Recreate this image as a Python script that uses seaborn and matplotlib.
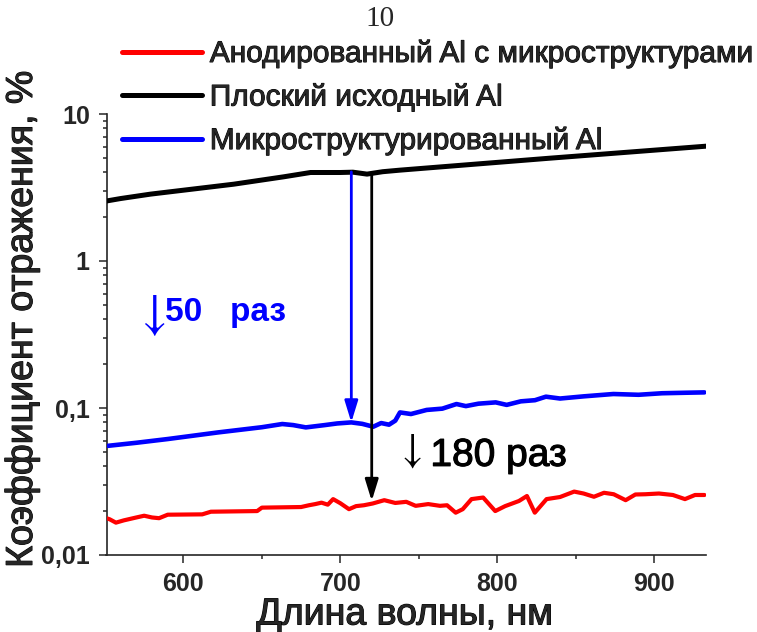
import numpy as np
import pandas as pd
import matplotlib
matplotlib.use("Agg")
import matplotlib.pyplot as plt
import matplotlib.patheffects as pe
import seaborn as sns
from matplotlib.ticker import LogLocator, FixedLocator, FixedFormatter, NullFormatter
from matplotlib.lines import Line2D

# ---------------- data ----------------
black_nm = [551, 560, 579, 632, 664, 681, 700, 708, 717, 727, 738, 833, 933]
black_val = [2.56, 2.66, 2.85, 3.33, 3.74, 4.0, 4.0, 4.02, 3.9, 4.05, 4.15, 5.0, 6.04]

blue_nm = [552, 570, 590, 622, 650, 663, 670, 678, 690, 698, 707, 714, 721, 726,
           731, 735, 738, 745, 755, 765, 774, 780, 788, 799, 806, 815, 824, 831,
           840, 855, 874, 890, 905, 920, 932]
blue_val = [0.0553, 0.058, 0.0615, 0.0682, 0.074, 0.0778, 0.0765, 0.0738, 0.0765,
            0.0785, 0.0798, 0.078, 0.0746, 0.079, 0.077, 0.082, 0.0933, 0.091,
            0.097, 0.099, 0.1064, 0.103, 0.107, 0.1092, 0.105, 0.111, 0.113,
            0.1194, 0.116, 0.12, 0.1245, 0.123, 0.126, 0.127, 0.1277]

red_nm = [551, 553, 557, 562, 570, 575, 580, 584.5, 590, 612, 617.5, 647, 650, 675,
          680, 684, 688, 692, 695.4, 700, 705.5, 710, 715, 720.6, 728, 735, 742,
          748, 756, 763.5, 768, 773.5, 778, 783.6, 791, 798.7, 805, 813.8, 818.9,
          823.9, 831.4, 840, 849, 855, 861.6, 868, 874.2, 881.8, 888, 894.4, 903,
          911.9, 919.6, 926, 932]
red_val = [0.0178, 0.0175, 0.0166, 0.0172, 0.0180, 0.0185, 0.0180, 0.0178, 0.0188,
           0.0189, 0.0197, 0.0199, 0.0210, 0.0212, 0.0218, 0.0222, 0.0227, 0.0220,
           0.0240, 0.0225, 0.0205, 0.0215, 0.0218, 0.0224, 0.0236, 0.0226, 0.0230,
           0.0216, 0.0222, 0.0216, 0.0218, 0.0194, 0.0205, 0.0240, 0.0246, 0.0199,
           0.0215, 0.0233, 0.0252, 0.0194, 0.0240, 0.0248, 0.0270, 0.0262, 0.0249,
           0.0265, 0.0259, 0.0236, 0.0258, 0.0259, 0.0262, 0.0256, 0.0240, 0.0256,
           0.0256]

series_labels = ["Анодированный Al с микроструктурами",
                 "Плоский исходный Al",
                 "Микроструктурированный Al"]
series_colors = ["#ff0000", "#000000", "#0000ff"]

x_ticks = [600, 700, 800, 900]
x_minor = [650, 750, 850]
y_ticks = [0.01, 0.1, 1, 10]
y_tick_labels = ["0,01", "0,1", "1", "10"]

# arrows: (x, from, to)
blue_arrow = (707, 4.04, 0.0798)
black_arrow = (720, 3.83, 0.0233)
# notes: arrow glyph position (x, y) and text position (x, baseline y)
blue_glyph = (568.5, 0.43)
blue_note = (588.3, 0.39, "50   раз")
black_glyph = (735.0, 0.0512)
black_note = (757.4, 0.0404, "180 раз")

# ---------------- plot ----------------
sns.set_style("ticks")
plt.rcParams["font.family"] = ["Liberation Sans", "DejaVu Sans"]
plt.rcParams["mathtext.fontset"] = "stix"

fig = plt.figure(figsize=(7.57, 6.32), dpi=100)
ax = fig.add_axes([106.5 / 757, 77 / 632, (706 - 106.5) / 757, (555 - 114) / 632])

sns.lineplot(x=black_nm, y=black_val, ax=ax, color=series_colors[1], lw=3.6,
             legend=False, zorder=3)
sns.lineplot(x=blue_nm, y=blue_val, ax=ax, color=series_colors[2], lw=3.3,
             legend=False, zorder=3)
sns.lineplot(x=red_nm, y=red_val, ax=ax, color=series_colors[0], lw=3.0,
             legend=False, zorder=3)

ax.set_yscale("log")
ax.set_xlim(551, 933)
ax.set_ylim(0.01, 10)

ax.xaxis.set_major_locator(FixedLocator(x_ticks))
ax.xaxis.set_minor_locator(FixedLocator(x_minor))
ax.yaxis.set_major_locator(FixedLocator(y_ticks))
ax.yaxis.set_major_formatter(FixedFormatter(y_tick_labels))
ax.yaxis.set_minor_locator(LogLocator(base=10, subs=np.arange(2, 10)))
ax.yaxis.set_minor_formatter(NullFormatter())

for s in ["top", "right"]:
    ax.spines[s].set_visible(False)
for s in ["left", "bottom"]:
    ax.spines[s].set_linewidth(1.2)

ax.tick_params(which="major", direction="out", length=6, width=1.1,
               labelsize=18, pad=6)
ax.tick_params(which="minor", direction="out", length=3, width=1.1)
for lab in ax.get_xticklabels() + ax.get_yticklabels():
    lab.set_fontweight("bold")

heavy = [pe.withStroke(linewidth=0.8, foreground="black")]

ax.set_xlabel("Длина волны, нм", fontsize=27, path_effects=heavy)
ax.xaxis.set_label_coords(0.498, -0.094)
ax.set_ylabel("Коэффициент отражения, %", fontsize=27, path_effects=heavy)
ax.yaxis.set_label_coords(-0.111, 0.535)

arrow_kw = dict(arrowstyle="-|>,head_length=1.3,head_width=0.4", lw=2,
                shrinkA=0, shrinkB=0)
ax.annotate("", xy=(blue_arrow[0], blue_arrow[2]), xytext=(blue_arrow[0], blue_arrow[1]),
            arrowprops=dict(color="#0000ff", **arrow_kw), zorder=4)
ax.annotate("", xy=(black_arrow[0], black_arrow[2]), xytext=(black_arrow[0], black_arrow[1]),
            arrowprops=dict(color="black", **arrow_kw), zorder=4)

# notes: thin arrow glyph + text
ax.text(blue_glyph[0], blue_glyph[1], r"$\downarrow$", color="#0000ff",
        fontsize=36, ha="left", va="center")
ax.text(blue_note[0], blue_note[1], blue_note[2], color="#0000ff", fontsize=24,
        fontweight="bold", ha="left", va="baseline")
ax.text(black_glyph[0], black_glyph[1], r"$\downarrow$", color="black",
        fontsize=30, ha="left", va="center")
ax.text(black_note[0], black_note[1], black_note[2], color="black", fontsize=28,
        ha="left", va="baseline", path_effects=heavy)

handles = [Line2D([], [], color=c, lw=3.6) for c in series_colors]
leg = fig.legend(handles, series_labels, loc="upper left",
                 bbox_to_anchor=(122 / 757, 1 - 40 / 632), frameon=False,
                 fontsize=21.5, borderpad=0, borderaxespad=0, handlelength=2.67,
                 handletextpad=0.27, labelspacing=0.52)
for t in leg.get_texts():
    t.set_path_effects([pe.withStroke(linewidth=0.7, foreground="black")])

fig.text(0.502, 1 - 19 / 632, "10", family=["Liberation Serif", "DejaVu Serif"],
         fontsize=21, ha="center", va="center")

fig.savefig("out.png", dpi=100)
